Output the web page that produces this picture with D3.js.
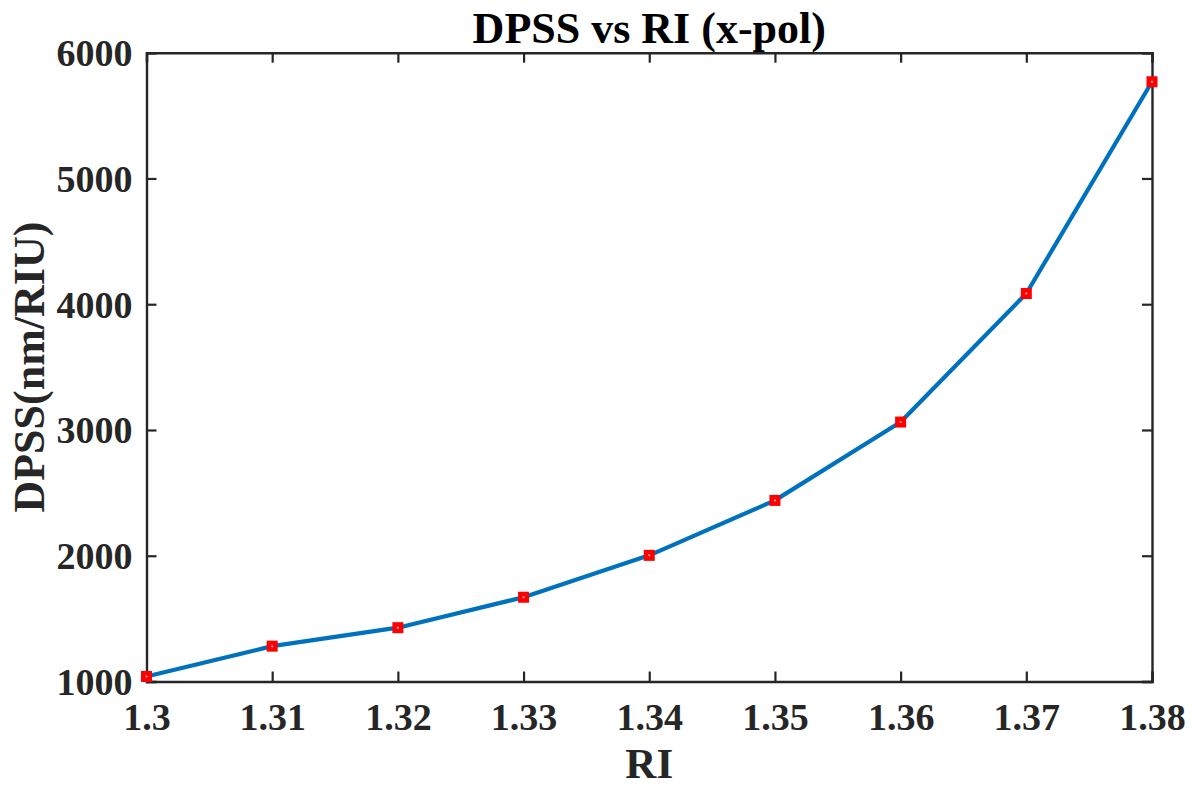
<!DOCTYPE html>
<html>
<head>
<meta charset="utf-8">
<script src="https://cdn.jsdelivr.net/npm/d3@7"></script>
<style>
  html, body { margin: 0; padding: 0; background: #fff; }
  svg { display: block; }
  text { font-family: "Liberation Serif", "Times New Roman", serif; font-weight: bold; }
</style>
</head>
<body>
<svg id="chart" width="1196" height="787"></svg>
<script>
const riValues = [1.30, 1.31, 1.32, 1.33, 1.34, 1.35, 1.36, 1.37, 1.38];
const dpssValues = [1040, 1281, 1428, 1670, 2003, 2440, 3063, 4085, 5769];
const xTicks = [1.30, 1.31, 1.32, 1.33, 1.34, 1.35, 1.36, 1.37, 1.38];
const xTickLabels = ["1.3", "1.31", "1.32", "1.33", "1.34", "1.35", "1.36", "1.37", "1.38"];
const yTicks = [1000, 2000, 3000, 4000, 5000, 6000];
const titleText = "DPSS vs RI (x-pol)";
const xLabelText = "RI";
const yLabelText = "DPSS(nm/RIU)";

const svg = d3.select("#chart");
const mLeft = 146.5, mRight = 1152, mTop = 52.7, mBottom = 681.5;

const x = d3.scaleLinear().domain([1.30, 1.38]).range([mLeft, mRight]);
const y = d3.scaleLinear().domain([1000, 6000]).range([mBottom, mTop]);

const axisColor = "#262626";
const tickLen = 10;

// Curve
const data = riValues.map((r, i) => ({ r, v: dpssValues[i] }));
const line = d3.line().x(d => x(d.r)).y(d => y(d.v)).curve(d3.curveLinear);
svg.append("path").datum(data)
  .attr("d", line)
  .attr("fill", "none")
  .attr("stroke", "#0072BD")
  .attr("stroke-width", 4.2)
  .attr("stroke-linejoin", "round");

// Axes (box with inward ticks)
const gB = svg.append("g").attr("transform", `translate(0,${mBottom})`)
  .call(d3.axisBottom(x).tickValues(xTicks).tickSize(-tickLen).tickFormat((d, i) => xTickLabels[i]).tickPadding(22));
const gT = svg.append("g").attr("transform", `translate(0,${mTop})`)
  .call(d3.axisTop(x).tickValues(xTicks).tickSize(-tickLen).tickFormat(""));
const gL = svg.append("g").attr("transform", `translate(${mLeft},0)`)
  .call(d3.axisLeft(y).tickValues(yTicks).tickSize(-tickLen).tickFormat(d3.format("d")).tickPadding(14));
const gR = svg.append("g").attr("transform", `translate(${mRight},0)`)
  .call(d3.axisRight(y).tickValues(yTicks).tickSize(-tickLen).tickFormat(""));

[gB, gT, gL, gR].forEach(g => {
  g.select(".domain").attr("stroke", axisColor).attr("stroke-width", 2.4);
  g.selectAll(".tick line").attr("stroke", axisColor).attr("stroke-width", 2.2);
  g.selectAll(".tick text").attr("fill", axisColor).style("font-size", "38px")
    .style("font-family", "'Liberation Serif', serif").style("font-weight", "bold");
});
gB.selectAll(".tick text").attr("dy", "0.71em");
gL.selectAll(".tick text").attr("dy", "0.34em");

// Markers
const mk = 11;
svg.append("g").selectAll("rect").data(data).join("rect")
  .attr("x", d => x(d.r) - mk / 2)
  .attr("y", d => y(d.v) - mk / 2)
  .attr("width", mk).attr("height", mk)
  .attr("fill", "#ff0000");
svg.append("g").selectAll("circle").data(data).join("circle")
  .attr("cx", d => x(d.r)).attr("cy", d => y(d.v))
  .attr("r", 1).attr("fill", "#ffc0c0");

// Title and labels
svg.append("text").attr("x", (mLeft + mRight) / 2).attr("y", 43)
  .attr("text-anchor", "middle").style("font-size", "44px").attr("fill", "#000")
  .text(titleText);
svg.append("text").attr("x", (mLeft + mRight) / 2).attr("y", 778)
  .attr("text-anchor", "middle").style("font-size", "43px").attr("fill", axisColor)
  .text(xLabelText);
svg.append("text")
  .attr("transform", `translate(44,${(mTop + mBottom) / 2}) rotate(-90)`)
  .attr("text-anchor", "middle").style("font-size", "44px").attr("fill", axisColor)
  .text(yLabelText);
</script>
</body>
</html>
